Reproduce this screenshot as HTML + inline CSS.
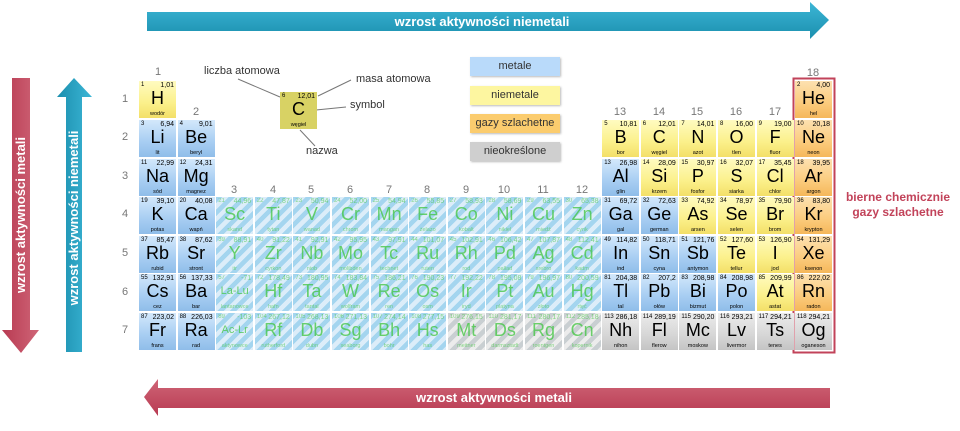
<!DOCTYPE html>
<html><head><meta charset="utf-8">
<style>
*{margin:0;padding:0;box-sizing:border-box}
body{width:960px;height:431px;background:#fff;position:relative;overflow:hidden;font-family:"Liberation Sans",sans-serif}
.c{position:absolute;width:37px;height:37px;color:#000;overflow:hidden}
.c .n{position:absolute;left:2px;top:1px;font-size:6px}
.c .m{position:absolute;right:2px;top:1px;font-size:7px}
.c .s{position:absolute;left:0;right:0;top:7px;text-align:center;font-size:18px;line-height:20px}
.c .w{position:absolute;left:0;right:0;bottom:1px;text-align:center;font-size:5.5px}
.b{background:linear-gradient(#d3e8fb,#a7cdf2 60%,#8fbde9)}
.y{background:linear-gradient(#fffbc0,#fbf08a 60%,#f3df68)}
.o{background:linear-gradient(#fde1b0,#fbcb7c 60%,#f5b75a)}
.g{background:linear-gradient(#ececec,#d6d6d6 60%,#c4c4c4)}
.t{background:repeating-linear-gradient(135deg,#a4d5ef 0 4.5px,#dcedf9 4.5px 9px)}
.tg{background:repeating-linear-gradient(135deg,#c9cfd2 0 4.5px,#ececec 4.5px 9px)}
.t .s,.tg .s{color:#3fc63f;opacity:.75}
.t .n,.t .m,.t .w,.tg .n,.tg .m,.tg .w{color:#3fc63f;opacity:.6}
.lab{position:absolute;font-size:11px;color:#777;text-align:center;width:20px}
.leg{position:absolute;left:470px;width:90px;height:19px;font-size:11px;text-align:center;line-height:19px;color:#333;box-shadow:1px 1px 2px #bbb}
.ann{position:absolute;font-size:11px;color:#333}
</style></head><body>

<svg width="960" height="431" style="position:absolute;left:0;top:0">
<defs>
<linearGradient id="tl" x1="0" y1="0" x2="0" y2="1"><stop offset="0" stop-color="#3cb6d6"/><stop offset="1" stop-color="#1b8fae"/></linearGradient>
<linearGradient id="tv" x1="0" y1="0" x2="1" y2="0"><stop offset="0" stop-color="#1b8fae"/><stop offset="1" stop-color="#3cb6d6"/></linearGradient>
<linearGradient id="rl" x1="0" y1="0" x2="0" y2="1"><stop offset="0" stop-color="#cf6577"/><stop offset="1" stop-color="#b83a52"/></linearGradient>
<linearGradient id="rv" x1="0" y1="0" x2="1" y2="0"><stop offset="0" stop-color="#b83a52"/><stop offset="1" stop-color="#cf6577"/></linearGradient>
</defs>
<polygon points="147,12 810,12 810,2 829,20 810,39 810,31 147,31" fill="url(#tl)"/>
<polygon points="830,388 158,388 158,379 144,397 158,416 158,408 830,408" fill="url(#rl)"/>
<polygon points="12,78 30,78 30,330 39,330 21,353 2,330 12,330" fill="url(#rv)"/>
<polygon points="66,352 82,352 82,97 92,97 74,78 57,97 66,97" fill="url(#tv)"/>
<line x1="238" y1="79" x2="280" y2="97" stroke="#777" stroke-width="1"/>
<line x1="318" y1="96" x2="351" y2="80" stroke="#777" stroke-width="1"/>
<line x1="306" y1="111" x2="346" y2="107" stroke="#777" stroke-width="1"/>
<line x1="300" y1="130" x2="315" y2="146" stroke="#777" stroke-width="1"/>
<rect x="793.5" y="78.5" width="41" height="274" fill="none" stroke="#c2435a" stroke-width="2"/>
</svg>

<div style="position:absolute;left:147px;top:12px;width:670px;text-align:center;color:#fff;font-weight:bold;font-size:13px;line-height:19px">wzrost aktywności niemetali</div>
<div style="position:absolute;left:158px;top:388px;width:672px;text-align:center;color:#fff;font-weight:bold;font-size:13px;line-height:20px">wzrost aktywności metali</div>
<div style="position:absolute;left:21px;top:215px;width:200px;margin-left:-100px;margin-top:-10px;text-align:center;color:#fff;font-weight:bold;font-size:13px;line-height:20px;transform:rotate(-90deg)">wzrost aktywności metali</div>
<div style="position:absolute;left:74px;top:218px;width:220px;margin-left:-110px;margin-top:-10px;text-align:center;color:#fff;font-weight:bold;font-size:13px;line-height:20px;transform:rotate(-90deg)">wzrost aktywności niemetali</div>

<div style="position:absolute;left:838px;top:190px;width:120px;text-align:center;color:#c2435a;font-weight:bold;font-size:12px;line-height:15px">bierne chemicznie<br>gazy szlachetne</div>

<div class="leg" style="top:57px;background:#b9dafa">metale</div>
<div class="leg" style="top:86px;background:#fdf6a0">niemetale</div>
<div class="leg" style="top:114px;background:#fbcc6e">gazy szlachetne</div>
<div class="leg" style="top:142px;background:#cfcfcf">nieokreślone</div>

<div class="ann" style="left:204px;top:65px">liczba atomowa</div>
<div class="ann" style="left:356px;top:73px">masa atomowa</div>
<div class="ann" style="left:350px;top:99px">symbol</div>
<div class="ann" style="left:306px;top:145px">nazwa</div>
<div class="c" style="left:280px;top:92px;background:#d8d264"><span class="n">6</span><span class="m">12,01</span><span class="s">C</span><span class="w">węgiel</span></div>

<div class="lab" style="left:148px;top:66px">1</div>
<div class="lab" style="left:186px;top:106px">2</div>
<div class="lab" style="left:224px;top:184px">3</div>
<div class="lab" style="left:263px;top:184px">4</div>
<div class="lab" style="left:301px;top:184px">5</div>
<div class="lab" style="left:340px;top:184px">6</div>
<div class="lab" style="left:379px;top:184px">7</div>
<div class="lab" style="left:417px;top:184px">8</div>
<div class="lab" style="left:456px;top:184px">9</div>
<div class="lab" style="left:494px;top:184px">10</div>
<div class="lab" style="left:533px;top:184px">11</div>
<div class="lab" style="left:572px;top:184px">12</div>
<div class="lab" style="left:610px;top:106px">13</div>
<div class="lab" style="left:649px;top:106px">14</div>
<div class="lab" style="left:687px;top:106px">15</div>
<div class="lab" style="left:726px;top:106px">16</div>
<div class="lab" style="left:765px;top:106px">17</div>
<div class="lab" style="left:803px;top:67px">18</div>
<div class="lab" style="left:115px;top:93px">1</div>
<div class="lab" style="left:115px;top:131px">2</div>
<div class="lab" style="left:115px;top:170px">3</div>
<div class="lab" style="left:115px;top:208px">4</div>
<div class="lab" style="left:115px;top:247px">5</div>
<div class="lab" style="left:115px;top:286px">6</div>
<div class="lab" style="left:115px;top:324px">7</div>

<!-- row1 -->
<div class="c y" style="left:139px;top:81px"><span class="n">1</span><span class="m">1,01</span><span class="s">H</span><span class="w">wodór</span></div>
<div class="c o" style="left:795px;top:81px"><span class="n">2</span><span class="m">4,00</span><span class="s">He</span><span class="w">hel</span></div>
<!-- row2 -->
<div class="c b" style="left:139px;top:120px"><span class="n">3</span><span class="m">6,94</span><span class="s">Li</span><span class="w">lit</span></div>
<div class="c b" style="left:177.6px;top:120px"><span class="n">4</span><span class="m">9,01</span><span class="s">Be</span><span class="w">beryl</span></div>
<div class="c y" style="left:602.2px;top:120px"><span class="n">5</span><span class="m">10,81</span><span class="s">B</span><span class="w">bor</span></div>
<div class="c y" style="left:640.8px;top:120px"><span class="n">6</span><span class="m">12,01</span><span class="s">C</span><span class="w">węgiel</span></div>
<div class="c y" style="left:679.4px;top:120px"><span class="n">7</span><span class="m">14,01</span><span class="s">N</span><span class="w">azot</span></div>
<div class="c y" style="left:718px;top:120px"><span class="n">8</span><span class="m">16,00</span><span class="s">O</span><span class="w">tlen</span></div>
<div class="c y" style="left:756.6px;top:120px"><span class="n">9</span><span class="m">19,00</span><span class="s">F</span><span class="w">fluor</span></div>
<div class="c o" style="left:795px;top:120px"><span class="n">10</span><span class="m">20,18</span><span class="s">Ne</span><span class="w">neon</span></div>
<!-- row3 -->
<div class="c b" style="left:139px;top:158.5px"><span class="n">11</span><span class="m">22,99</span><span class="s">Na</span><span class="w">sód</span></div>
<div class="c b" style="left:177.6px;top:158.5px"><span class="n">12</span><span class="m">24,31</span><span class="s">Mg</span><span class="w">magnez</span></div>
<div class="c b" style="left:602.2px;top:158.5px"><span class="n">13</span><span class="m">26,98</span><span class="s">Al</span><span class="w">glin</span></div>
<div class="c y" style="left:640.8px;top:158.5px"><span class="n">14</span><span class="m">28,09</span><span class="s">Si</span><span class="w">krzem</span></div>
<div class="c y" style="left:679.4px;top:158.5px"><span class="n">15</span><span class="m">30,97</span><span class="s">P</span><span class="w">fosfor</span></div>
<div class="c y" style="left:718px;top:158.5px"><span class="n">16</span><span class="m">32,07</span><span class="s">S</span><span class="w">siarka</span></div>
<div class="c y" style="left:756.6px;top:158.5px"><span class="n">17</span><span class="m">35,45</span><span class="s">Cl</span><span class="w">chlor</span></div>
<div class="c o" style="left:795px;top:158.5px"><span class="n">18</span><span class="m">39,95</span><span class="s">Ar</span><span class="w">argon</span></div>
<!-- row4 -->
<div class="c b" style="left:139px;top:197px"><span class="n">19</span><span class="m">39,10</span><span class="s">K</span><span class="w">potas</span></div>
<div class="c b" style="left:177.6px;top:197px"><span class="n">20</span><span class="m">40,08</span><span class="s">Ca</span><span class="w">wapń</span></div>
<div class="c t" style="left:216.2px;top:197px"><span class="n">21</span><span class="m">44,96</span><span class="s">Sc</span><span class="w">skand</span></div>
<div class="c t" style="left:254.8px;top:197px"><span class="n">22</span><span class="m">47,87</span><span class="s">Ti</span><span class="w">tytan</span></div>
<div class="c t" style="left:293.4px;top:197px"><span class="n">23</span><span class="m">50,94</span><span class="s">V</span><span class="w">wanad</span></div>
<div class="c t" style="left:332px;top:197px"><span class="n">24</span><span class="m">52,00</span><span class="s">Cr</span><span class="w">chrom</span></div>
<div class="c t" style="left:370.6px;top:197px"><span class="n">25</span><span class="m">54,94</span><span class="s">Mn</span><span class="w">mangan</span></div>
<div class="c t" style="left:409.2px;top:197px"><span class="n">26</span><span class="m">55,85</span><span class="s">Fe</span><span class="w">żelazo</span></div>
<div class="c t" style="left:447.8px;top:197px"><span class="n">27</span><span class="m">58,93</span><span class="s">Co</span><span class="w">kobalt</span></div>
<div class="c t" style="left:486.4px;top:197px"><span class="n">28</span><span class="m">58,69</span><span class="s">Ni</span><span class="w">nikiel</span></div>
<div class="c t" style="left:525px;top:197px"><span class="n">29</span><span class="m">63,55</span><span class="s">Cu</span><span class="w">miedź</span></div>
<div class="c t" style="left:563.6px;top:197px"><span class="n">30</span><span class="m">65,38</span><span class="s">Zn</span><span class="w">cynk</span></div>
<div class="c b" style="left:602.2px;top:197px"><span class="n">31</span><span class="m">69,72</span><span class="s">Ga</span><span class="w">gal</span></div>
<div class="c b" style="left:640.8px;top:197px"><span class="n">32</span><span class="m">72,63</span><span class="s">Ge</span><span class="w">german</span></div>
<div class="c y" style="left:679.4px;top:197px"><span class="n">33</span><span class="m">74,92</span><span class="s">As</span><span class="w">arsen</span></div>
<div class="c y" style="left:718px;top:197px"><span class="n">34</span><span class="m">78,97</span><span class="s">Se</span><span class="w">selen</span></div>
<div class="c y" style="left:756.6px;top:197px"><span class="n">35</span><span class="m">79,90</span><span class="s">Br</span><span class="w">brom</span></div>
<div class="c o" style="left:795px;top:197px"><span class="n">36</span><span class="m">83,80</span><span class="s">Kr</span><span class="w">krypton</span></div>
<!-- row5 -->
<div class="c b" style="left:139px;top:235.5px"><span class="n">37</span><span class="m">85,47</span><span class="s">Rb</span><span class="w">rubid</span></div>
<div class="c b" style="left:177.6px;top:235.5px"><span class="n">38</span><span class="m">87,62</span><span class="s">Sr</span><span class="w">stront</span></div>
<div class="c t" style="left:216.2px;top:235.5px"><span class="n">39</span><span class="m">88,91</span><span class="s">Y</span><span class="w">itr</span></div>
<div class="c t" style="left:254.8px;top:235.5px"><span class="n">40</span><span class="m">91,22</span><span class="s">Zr</span><span class="w">cyrkon</span></div>
<div class="c t" style="left:293.4px;top:235.5px"><span class="n">41</span><span class="m">92,91</span><span class="s">Nb</span><span class="w">niob</span></div>
<div class="c t" style="left:332px;top:235.5px"><span class="n">42</span><span class="m">95,95</span><span class="s">Mo</span><span class="w">molibden</span></div>
<div class="c t" style="left:370.6px;top:235.5px"><span class="n">43</span><span class="m">97,91</span><span class="s">Tc</span><span class="w">technet</span></div>
<div class="c t" style="left:409.2px;top:235.5px"><span class="n">44</span><span class="m">101,07</span><span class="s">Ru</span><span class="w">ruten</span></div>
<div class="c t" style="left:447.8px;top:235.5px"><span class="n">45</span><span class="m">102,91</span><span class="s">Rh</span><span class="w">rod</span></div>
<div class="c t" style="left:486.4px;top:235.5px"><span class="n">46</span><span class="m">106,42</span><span class="s">Pd</span><span class="w">pallad</span></div>
<div class="c t" style="left:525px;top:235.5px"><span class="n">47</span><span class="m">107,87</span><span class="s">Ag</span><span class="w">srebro</span></div>
<div class="c t" style="left:563.6px;top:235.5px"><span class="n">48</span><span class="m">112,41</span><span class="s">Cd</span><span class="w">kadm</span></div>
<div class="c b" style="left:602.2px;top:235.5px"><span class="n">49</span><span class="m">114,82</span><span class="s">In</span><span class="w">ind</span></div>
<div class="c b" style="left:640.8px;top:235.5px"><span class="n">50</span><span class="m">118,71</span><span class="s">Sn</span><span class="w">cyna</span></div>
<div class="c b" style="left:679.4px;top:235.5px"><span class="n">51</span><span class="m">121,76</span><span class="s">Sb</span><span class="w">antymon</span></div>
<div class="c y" style="left:718px;top:235.5px"><span class="n">52</span><span class="m">127,60</span><span class="s">Te</span><span class="w">tellur</span></div>
<div class="c y" style="left:756.6px;top:235.5px"><span class="n">53</span><span class="m">126,90</span><span class="s">I</span><span class="w">jod</span></div>
<div class="c o" style="left:795px;top:235.5px"><span class="n">54</span><span class="m">131,29</span><span class="s">Xe</span><span class="w">ksenon</span></div>
<!-- row6 -->
<div class="c b" style="left:139px;top:274px"><span class="n">55</span><span class="m">132,91</span><span class="s">Cs</span><span class="w">cez</span></div>
<div class="c b" style="left:177.6px;top:274px"><span class="n">56</span><span class="m">137,33</span><span class="s">Ba</span><span class="w">bar</span></div>
<div class="c t" style="left:216.2px;top:274px"><span class="n">57</span><span class="m">-71</span><span class="s" style="font-size:11px">La-Lu</span><span class="w">lantanowce</span></div>
<div class="c t" style="left:254.8px;top:274px"><span class="n">72</span><span class="m">178,49</span><span class="s">Hf</span><span class="w">hafn</span></div>
<div class="c t" style="left:293.4px;top:274px"><span class="n">73</span><span class="m">180,95</span><span class="s">Ta</span><span class="w">tantal</span></div>
<div class="c t" style="left:332px;top:274px"><span class="n">74</span><span class="m">183,84</span><span class="s">W</span><span class="w">wolfram</span></div>
<div class="c t" style="left:370.6px;top:274px"><span class="n">75</span><span class="m">186,21</span><span class="s">Re</span><span class="w">ren</span></div>
<div class="c t" style="left:409.2px;top:274px"><span class="n">76</span><span class="m">190,23</span><span class="s">Os</span><span class="w">osm</span></div>
<div class="c t" style="left:447.8px;top:274px"><span class="n">77</span><span class="m">192,22</span><span class="s">Ir</span><span class="w">iryd</span></div>
<div class="c t" style="left:486.4px;top:274px"><span class="n">78</span><span class="m">195,08</span><span class="s">Pt</span><span class="w">platyna</span></div>
<div class="c t" style="left:525px;top:274px"><span class="n">79</span><span class="m">196,97</span><span class="s">Au</span><span class="w">złoto</span></div>
<div class="c t" style="left:563.6px;top:274px"><span class="n">80</span><span class="m">200,59</span><span class="s">Hg</span><span class="w">rtęć</span></div>
<div class="c b" style="left:602.2px;top:274px"><span class="n">81</span><span class="m">204,38</span><span class="s">Tl</span><span class="w">tal</span></div>
<div class="c b" style="left:640.8px;top:274px"><span class="n">82</span><span class="m">207,2</span><span class="s">Pb</span><span class="w">ołów</span></div>
<div class="c b" style="left:679.4px;top:274px"><span class="n">83</span><span class="m">208,98</span><span class="s">Bi</span><span class="w">bizmut</span></div>
<div class="c b" style="left:718px;top:274px"><span class="n">84</span><span class="m">208,98</span><span class="s">Po</span><span class="w">polon</span></div>
<div class="c y" style="left:756.6px;top:274px"><span class="n">85</span><span class="m">209,99</span><span class="s">At</span><span class="w">astat</span></div>
<div class="c o" style="left:795px;top:274px"><span class="n">86</span><span class="m">222,02</span><span class="s">Rn</span><span class="w">radon</span></div>
<!-- row7 -->
<div class="c b" style="left:139px;top:312.5px"><span class="n">87</span><span class="m">223,02</span><span class="s">Fr</span><span class="w">frans</span></div>
<div class="c b" style="left:177.6px;top:312.5px"><span class="n">88</span><span class="m">226,03</span><span class="s">Ra</span><span class="w">rad</span></div>
<div class="c t" style="left:216.2px;top:312.5px"><span class="n">89</span><span class="m">-103</span><span class="s" style="font-size:11px">Ac-Lr</span><span class="w">aktynowce</span></div>
<div class="c t" style="left:254.8px;top:312.5px"><span class="n">104</span><span class="m">267,12</span><span class="s">Rf</span><span class="w">rutherford</span></div>
<div class="c t" style="left:293.4px;top:312.5px"><span class="n">105</span><span class="m">268,13</span><span class="s">Db</span><span class="w">dubn</span></div>
<div class="c t" style="left:332px;top:312.5px"><span class="n">106</span><span class="m">271,13</span><span class="s">Sg</span><span class="w">seaborg</span></div>
<div class="c t" style="left:370.6px;top:312.5px"><span class="n">107</span><span class="m">274,14</span><span class="s">Bh</span><span class="w">bohr</span></div>
<div class="c t" style="left:409.2px;top:312.5px"><span class="n">108</span><span class="m">277,15</span><span class="s">Hs</span><span class="w">has</span></div>
<div class="c tg" style="left:447.8px;top:312.5px"><span class="n">109</span><span class="m">276,15</span><span class="s">Mt</span><span class="w">meitner</span></div>
<div class="c tg" style="left:486.4px;top:312.5px"><span class="n">110</span><span class="m">281,17</span><span class="s">Ds</span><span class="w">darmsztadt</span></div>
<div class="c tg" style="left:525px;top:312.5px"><span class="n">111</span><span class="m">280,17</span><span class="s">Rg</span><span class="w">roentgen</span></div>
<div class="c tg" style="left:563.6px;top:312.5px"><span class="n">112</span><span class="m">285,18</span><span class="s">Cn</span><span class="w">kopernik</span></div>
<div class="c g" style="left:602.2px;top:312.5px"><span class="n">113</span><span class="m">286,18</span><span class="s">Nh</span><span class="w">nihon</span></div>
<div class="c g" style="left:640.8px;top:312.5px"><span class="n">114</span><span class="m">289,19</span><span class="s">Fl</span><span class="w">flerow</span></div>
<div class="c g" style="left:679.4px;top:312.5px"><span class="n">115</span><span class="m">290,20</span><span class="s">Mc</span><span class="w">moskow</span></div>
<div class="c g" style="left:718px;top:312.5px"><span class="n">116</span><span class="m">293,21</span><span class="s">Lv</span><span class="w">livermor</span></div>
<div class="c g" style="left:756.6px;top:312.5px"><span class="n">117</span><span class="m">294,21</span><span class="s">Ts</span><span class="w">tenes</span></div>
<div class="c g" style="left:795px;top:312.5px"><span class="n">118</span><span class="m">294,21</span><span class="s">Og</span><span class="w">oganeson</span></div>
</body></html>
